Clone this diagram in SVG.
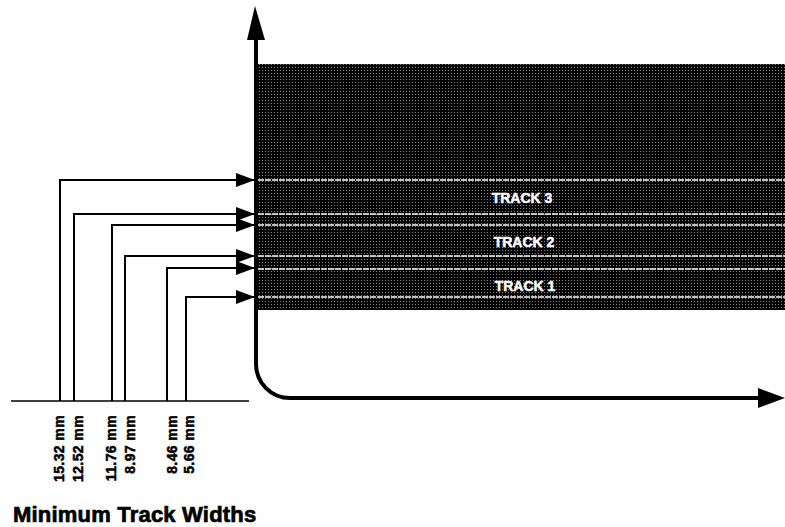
<svg xmlns="http://www.w3.org/2000/svg" width="785" height="527" viewBox="0 0 785 527">
<style>
.conn{fill:none;stroke:#000;stroke-width:2}
.axis{fill:none;stroke:#000;stroke-width:4}
.wl{stroke:#fff;stroke-width:1.5;stroke-dasharray:6 1}
.lbl{font-family:"Liberation Sans",Arial,sans-serif;font-weight:bold;font-size:14px;letter-spacing:0.4px;fill:#000;stroke:#000;stroke-width:0.5}
.trk{font-family:"Liberation Sans",Arial,sans-serif;font-weight:bold;font-size:14px;fill:#fff;stroke:#fff;stroke-width:0.5;text-anchor:middle}
.title{font-family:"Liberation Sans",Arial,sans-serif;font-weight:bold;font-size:22px;letter-spacing:0.2px;fill:#000;stroke:#000;stroke-width:0.7}
</style>
<defs>
<pattern id="dots" width="3" height="3" patternUnits="userSpaceOnUse">
<rect width="3" height="3" fill="#000"/>
<rect x="1" y="1" width="1" height="1" fill="#8a8a8a"/>
</pattern>
<marker id="ah" viewBox="0 0 19 14" refX="19" refY="7" markerWidth="19" markerHeight="14" markerUnits="userSpaceOnUse" orient="auto">
<path d="M0,0 L19,7 L0,14 z" fill="#000"/>
</marker>
</defs>
<rect width="785" height="527" fill="#fff"/>
<g id="tape">
<rect x="258" y="64" width="527" height="246" fill="url(#dots)"/>
<line class="wl" x1="258" y1="180" x2="785" y2="180"/>
<line class="wl" x1="258" y1="214" x2="785" y2="214"/>
<line class="wl" x1="258" y1="225" x2="785" y2="225"/>
<line class="wl" x1="258" y1="256" x2="785" y2="256"/>
<line class="wl" x1="258" y1="269" x2="785" y2="269"/>
<line class="wl" x1="258" y1="297" x2="785" y2="297"/>
</g>
<g id="track3"><text class="trk" x="522" y="203">TRACK 3</text></g>
<g id="track2"><text class="trk" x="524" y="247">TRACK 2</text></g>
<g id="track1"><text class="trk" x="525" y="291">TRACK 1</text></g>
<g id="axes">
<path class="axis" d="M256,38 V364 A34,34 0 0 0 290,398 H760"/>
<polygon points="255,6 247,40 265,40" fill="#000"/>
<polygon points="785,398 758,388 758,408" fill="#000"/>
</g>
<g id="connectors">
<line x1="11" y1="401" x2="249" y2="401" stroke="#000" stroke-width="1.5"/>
<path class="conn" d="M60,401 V180 H255" marker-end="url(#ah)"/>
<path class="conn" d="M74,401 V214 H255" marker-end="url(#ah)"/>
<path class="conn" d="M112,401 V225 H255" marker-end="url(#ah)"/>
<path class="conn" d="M125,401 V256 H255" marker-end="url(#ah)"/>
<path class="conn" d="M167,401 V268 H255" marker-end="url(#ah)"/>
<path class="conn" d="M186,401 V297 H255" marker-end="url(#ah)"/>
</g>
<g id="labels">
<text class="lbl" text-anchor="end" transform="translate(64,415) rotate(-90)">15.32 mm</text>
<text class="lbl" text-anchor="end" transform="translate(83,415) rotate(-90)">12.52 mm</text>
<text class="lbl" text-anchor="end" transform="translate(116,415) rotate(-90)">11.76 mm</text>
<text class="lbl" text-anchor="end" transform="translate(135,415) rotate(-90)">8.97 mm</text>
<text class="lbl" text-anchor="end" transform="translate(177,415) rotate(-90)">8.46 mm</text>
<text class="lbl" text-anchor="end" transform="translate(194,415) rotate(-90)">5.66 mm</text>
</g>
<g id="title"><text class="title" x="13" y="522">Minimum Track Widths</text></g>
</svg>
